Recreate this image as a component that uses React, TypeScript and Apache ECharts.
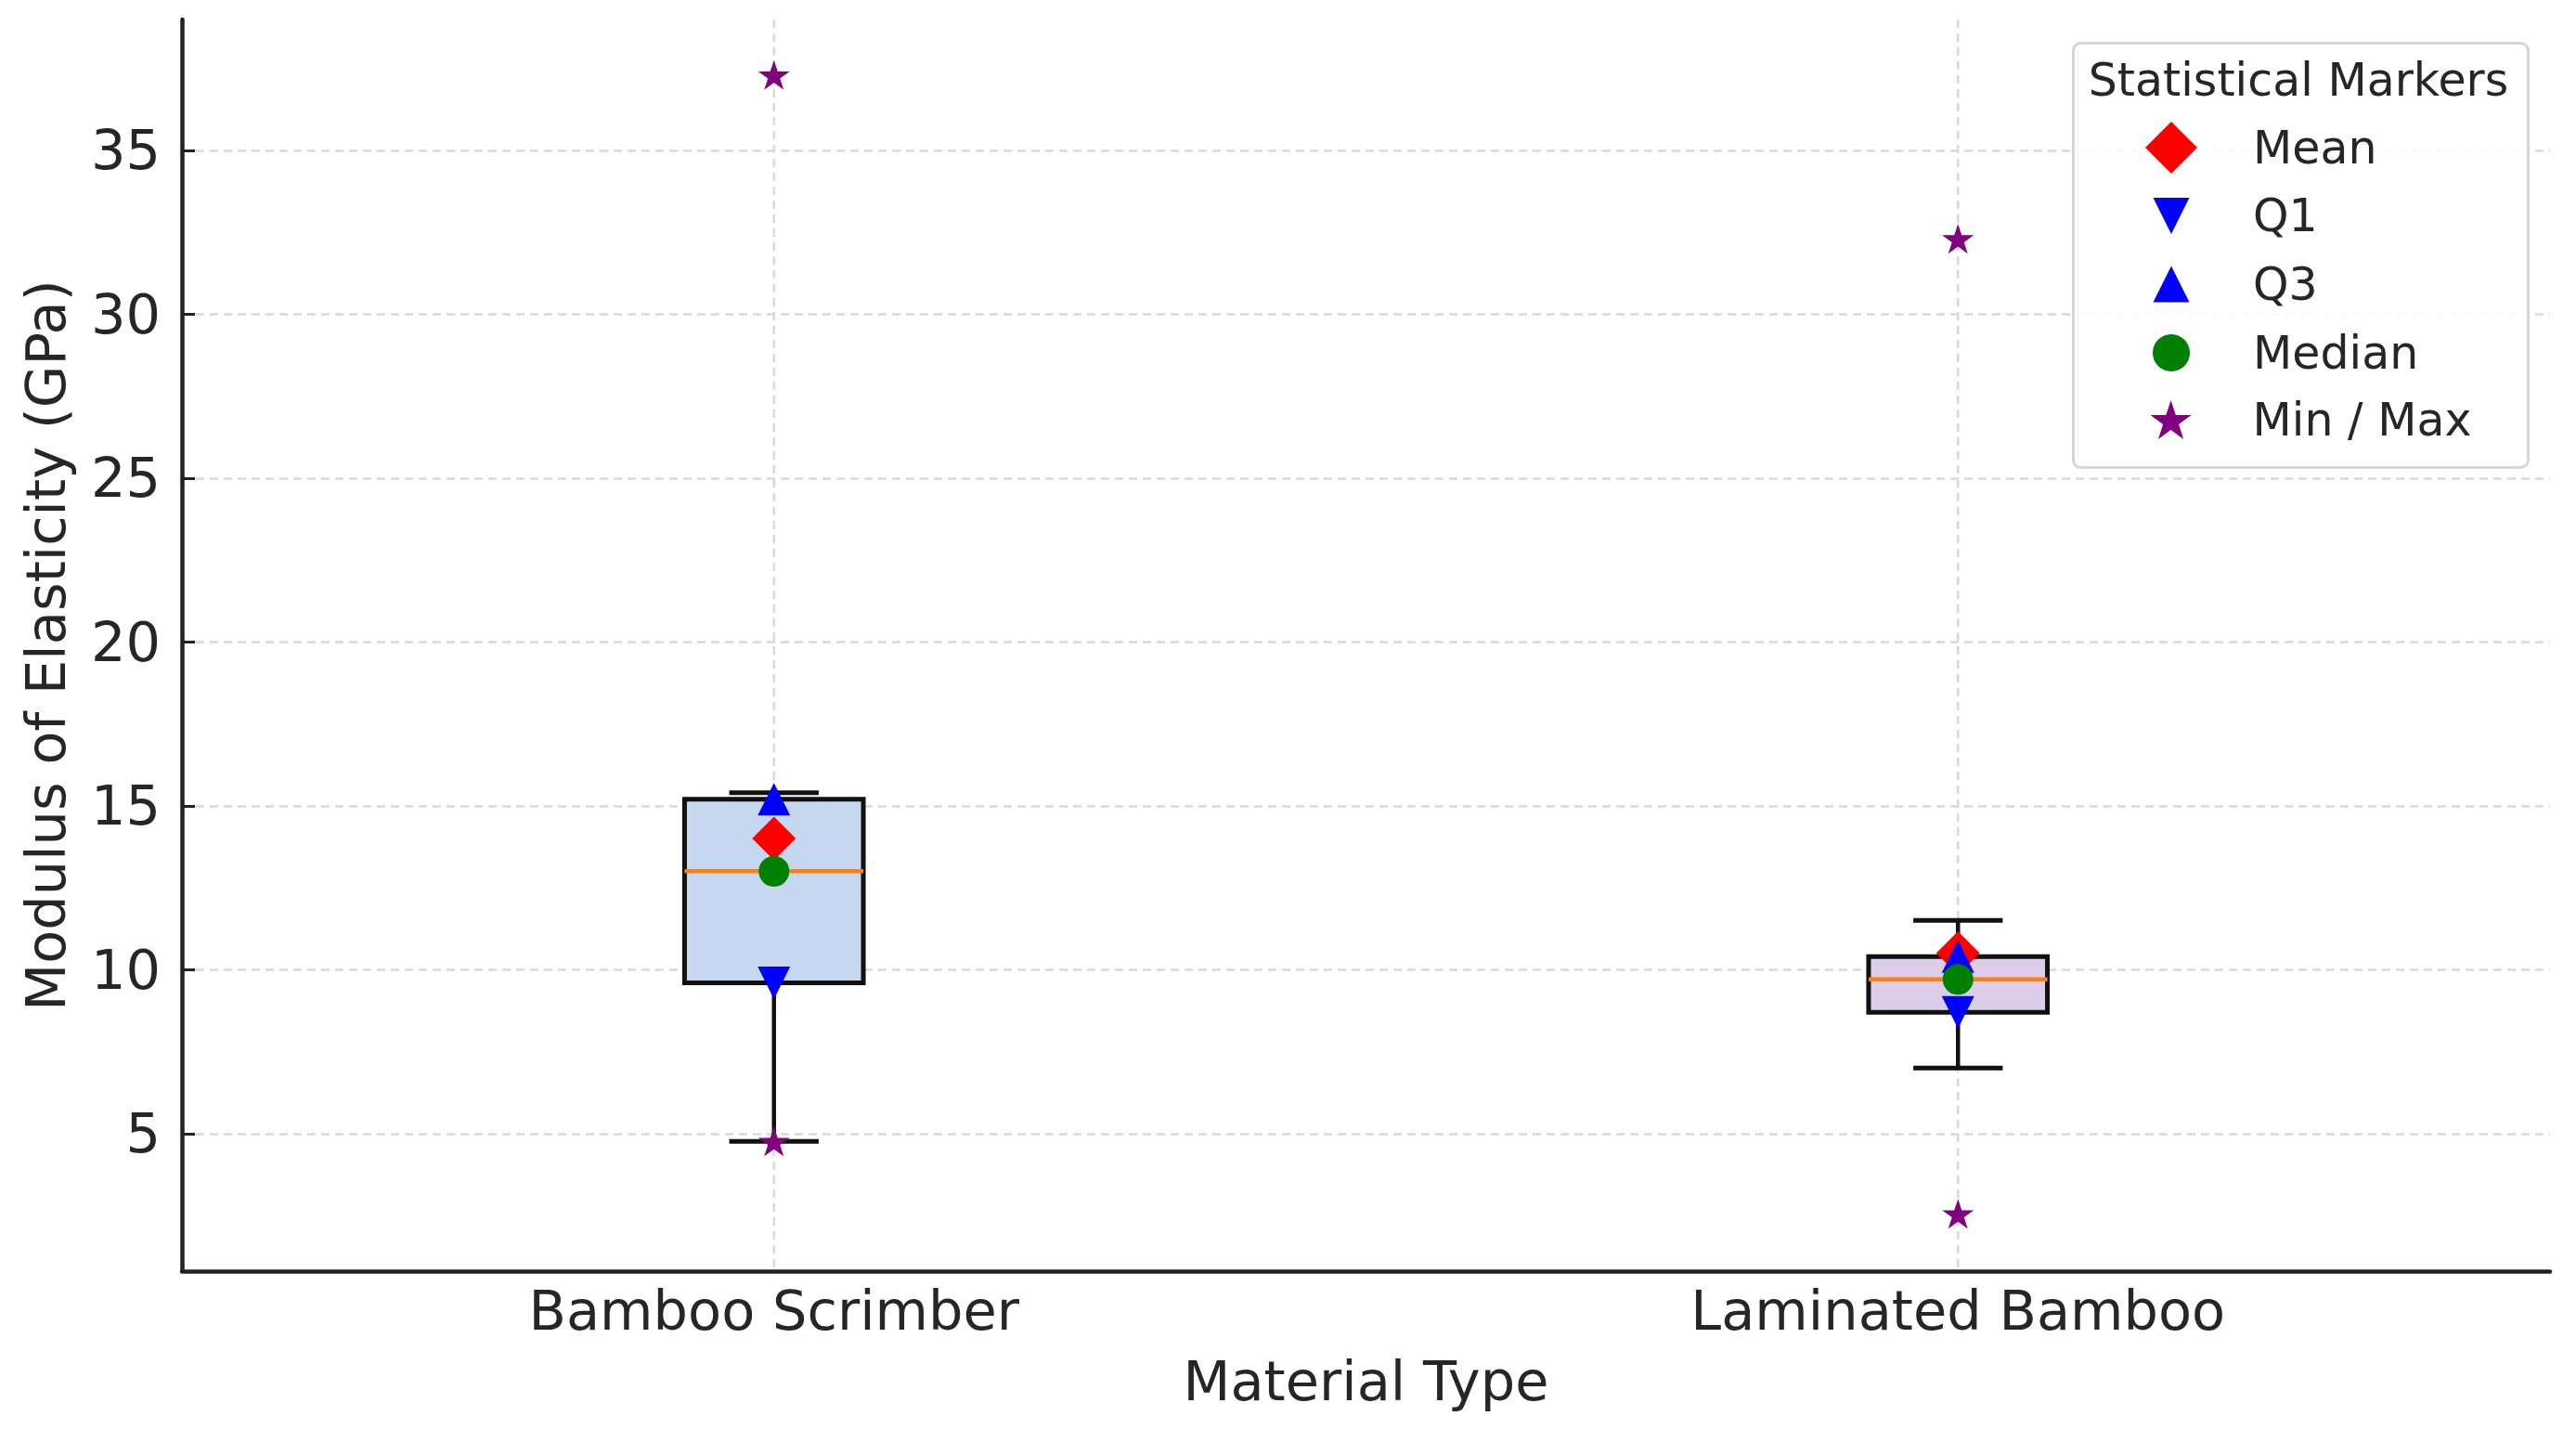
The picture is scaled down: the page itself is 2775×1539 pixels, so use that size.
import { useEffect, useRef } from "react";
import * as echarts from "echarts";

// box statistics per material
const categories = ["Bamboo Scrimber", "Laminated Bamboo"];
const whiskerLow = [4.76, 7.0];
const q1Values = [9.6, 8.7];
const medianValues = [13.0, 9.7];
const q3Values = [15.2, 10.4];
const whiskerHigh = [15.4, 11.5];
const meanValues = [14.0, 10.5];
const minValues = [4.76, 2.55];
const maxValues = [37.3, 32.3];
const yTicks = [5, 10, 15, 20, 25, 30, 35];
const Y_MIN = 0.8;
const Y_MAX = 38.99;

const FONT = "DejaVu Sans";
const INK = "#262626";
const AXIS = "#222222";
const GRID = "#d9d9d9";
const boxFills = ["#c5d8ef", "#ddcde8"];

// matplotlib-like 5 point star
const starPath =
  "path://" +
  Array.from({ length: 10 }, (_, k) => {
    const a = Math.PI / 2 + (k * Math.PI) / 5;
    const r = k % 2 ? 0.382 : 1;
    return `${k ? "L" : "M"}${(r * Math.cos(a)).toFixed(4)},${(-r * Math.sin(a)).toFixed(4)}`;
  }).join("") +
  "Z";
const downTriangle = "path://M0,0L2,0L1,2Z";

const toPoints = (vals: number[]) => vals.map((v, i) => [i, v]);

const markers = [
  { name: "Mean", symbol: "diamond", color: "#ff0000", size: [47, 47], legendSize: [56, 56], data: toPoints(meanValues) },
  { name: "Q1", symbol: downTriangle, color: "#0000ff", size: [35, 35], legendSize: [39, 39], data: toPoints(q1Values) },
  { name: "Q3", symbol: "triangle", color: "#0000ff", size: [35, 35], legendSize: [39, 39], data: toPoints(q3Values) },
  { name: "Median", symbol: "circle", color: "#008000", size: [33, 33], legendSize: [40, 40], data: toPoints(medianValues) },
  {
    name: "Min / Max", symbol: starPath, color: "#800080", size: [34, 32], legendSize: [45, 42],
    data: [...toPoints(minValues), ...toPoints(maxValues)],
  },
];
const legendRowY = [159, 232.5, 306, 380, 452];
const LEGEND_MARK_X = 2339;
const LEGEND_TEXT_X = 2427;
const LEGEND_FONT = 49;

export default function App() {
  const ref = useRef<HTMLDivElement>(null);

  useEffect(() => {
    if (!ref.current) return;
    const chart = echarts.init(ref.current, null, { renderer: "svg" });

    const gridLine = { stroke: GRID, lineWidth: 2.5, lineDash: [9, 6] };

    chart.setOption({
      animation: false,
      backgroundColor: "#ffffff",
      grid: { left: 196, right: 28, top: 21, bottom: 170, outerBoundsMode: "none" },
      xAxis: {
        type: "category",
        data: categories,
        name: "Material Type",
        nameLocation: "middle",
        nameGap: 89,
        nameTextStyle: { fontFamily: FONT, fontSize: 59, color: INK },
        axisLine: { lineStyle: { color: AXIS, width: 4.5 } },
        axisTick: { inside: true, alignWithLabel: true, length: 14, lineStyle: { color: AXIS, width: 3 } },
        axisLabel: { fontFamily: FONT, fontSize: 59, color: INK, margin: 13 },
        splitLine: { show: false },
      },
      yAxis: {
        type: "value",
        min: Y_MIN,
        max: Y_MAX,
        name: "Modulus of Elasticity (GPa)",
        nameLocation: "middle",
        nameGap: 117,
        nameTextStyle: { fontFamily: FONT, fontSize: 59, color: INK },
        axisLine: { show: true, lineStyle: { color: AXIS, width: 4.5 } },
        axisTick: { show: true, inside: true, length: 14, customValues: yTicks, lineStyle: { color: AXIS, width: 3 } },
        axisLabel: { customValues: yTicks, fontFamily: FONT, fontSize: 59, color: INK, margin: 23 },
        splitLine: { show: true, lineStyle: { color: GRID, width: 2.5, type: [9, 6] } },
      },
      legend: markers.map((m, i) => {
        const [w, h] = m.legendSize;
        return {
          data: [m.name],
          orient: "vertical",
          left: LEGEND_MARK_X - w / 2,
          top: legendRowY[i] - Math.max(h, LEGEND_FONT) / 2,
          itemWidth: w,
          itemHeight: h,
          padding: 0,
          selectedMode: false,
          z: 20,
          textStyle: {
            fontFamily: FONT, fontSize: LEGEND_FONT, color: INK,
            padding: [0, 0, 0, LEGEND_TEXT_X - LEGEND_MARK_X - w / 2 - 5],
          },
        };
      }),
      graphic: [
        {
          type: "rect", left: 2232, top: 45, z: 10,
          shape: { width: 490, height: 457, r: 8 },
          style: { fill: "rgba(255,255,255,0.85)", stroke: "#d6d6d6", lineWidth: 3 },
        },
        {
          type: "text", x: 2476, y: 86, z: 11,
          style: {
            text: "Statistical Markers", fontFamily: FONT, fontSize: LEGEND_FONT, fill: INK,
            align: "center", verticalAlign: "middle",
          },
        },
      ],
      series: [
        {
          type: "custom",
          z: 2,
          silent: true,
          data: categories.map((_, i) => [i, whiskerLow[i], q1Values[i], medianValues[i], q3Values[i], whiskerHigh[i]]),
          encode: { x: 0, y: [1, 2, 3, 4, 5] },
          renderItem: (params: any, api: any) => {
            const idx = api.value(0);
            const band = api.size([1, 0])[0];
            const bw = band * 0.151;
            const cw = bw / 2;
            const [cx, yLow] = api.coord([idx, api.value(1)]);
            const yQ1 = api.coord([idx, api.value(2)])[1];
            const yMed = api.coord([idx, api.value(3)])[1];
            const yQ3 = api.coord([idx, api.value(4)])[1];
            const yHigh = api.coord([idx, api.value(5)])[1];
            const cs = params.coordSys;
            const ink = { stroke: "#111111", lineWidth: 4.5 };
            return {
              type: "group",
              children: [
                { type: "line", shape: { x1: cx, y1: cs.y, x2: cx, y2: cs.y + cs.height - 3 }, style: gridLine },
                { type: "line", shape: { x1: cx, y1: yQ3, x2: cx, y2: yHigh }, style: ink },
                { type: "line", shape: { x1: cx, y1: yQ1, x2: cx, y2: yLow }, style: ink },
                { type: "line", shape: { x1: cx - cw / 2, y1: yHigh, x2: cx + cw / 2, y2: yHigh }, style: { ...ink, lineWidth: 5 } },
                { type: "line", shape: { x1: cx - cw / 2, y1: yLow, x2: cx + cw / 2, y2: yLow }, style: { ...ink, lineWidth: 5 } },
                {
                  type: "rect",
                  shape: { x: cx - cw, y: yQ3, width: bw, height: yQ1 - yQ3 },
                  style: { fill: boxFills[idx], stroke: "#111111", lineWidth: 5 },
                },
                { type: "line", shape: { x1: cx - cw, y1: yMed, x2: cx + cw, y2: yMed }, style: { stroke: "#ff7f0e", lineWidth: 4.5 } },
              ],
            };
          },
        },
        ...markers.map((m) => ({
          type: "scatter",
          name: m.name,
          z: 3,
          symbol: m.symbol,
          symbolSize: m.size,
          itemStyle: { color: m.color, opacity: 1 },
          emphasis: { disabled: true },
          silent: true,
          data: m.data,
        })),
      ],
    });

    return () => chart.dispose();
  }, []);

  return (
    <div
      ref={ref}
      style={{ position: "absolute", left: 0, top: 0, width: 2775, height: 1539, background: "#fff" }}
    />
  );
}
